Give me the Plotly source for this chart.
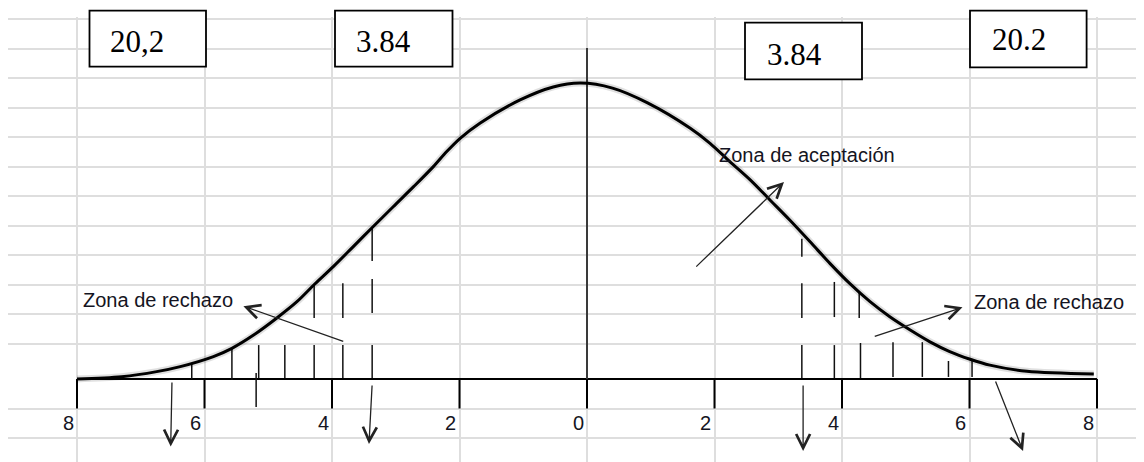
import plotly.graph_objects as go

# curva dibujada
curva_x = [-8.0, -7.3, -6.75, -6.38, -5.86, -5.57, -5.23, -4.87, -4.55, -4.27,
           -3.98, -3.67, -3.38, -3.04, -2.72, -2.41, -2.2, -1.99, -1.68, -1.05,
           -0.53, -0.1, 0.4, 0.95, 1.62, 1.93, 2.24, 2.56, 2.87, 3.18, 3.5,
           3.81, 4.12, 4.44, 4.75, 5.07, 5.38, 5.69, 6.01, 6.32, 6.9, 7.95]
curva_y = [0.0, 0.08, 0.25, 0.42, 0.76, 1.04, 1.49, 2.06, 2.62, 3.22,
           3.81, 4.48, 5.11, 5.84, 6.52, 7.2, 7.71, 8.16, 8.67, 9.46,
           9.9, 10.03, 9.86, 9.36, 8.5, 7.99, 7.37, 6.75, 6.07, 5.39, 4.65,
           3.92, 3.24, 2.62, 2.11, 1.66, 1.26, 0.93, 0.67, 0.47, 0.26, 0.17]

# marcas del eje
ticks = [-8, -6, -4, -2, 0, 2, 4, 6, 8]
tick_labels = ["8", "6", "4", "2", "0", "2", "4", "6", "8"]

# rayado de las zonas de rechazo: (x, y arriba, y abajo)
rayas_x = [-6.2, -5.57, -5.19, -5.15, -4.74, -4.28, -4.28, -3.83, -3.83,
           -3.37, -3.37, -3.37,
           3.37, 3.37, 3.37, 3.88, 3.88, 4.27, 4.29, 4.8, 5.26, 5.67, 6.04]
rayas_top = [0.51, 1.05, 0.2, 1.15, 1.15, 1.15, 3.19, 1.15, 3.25,
             1.15, 3.39, 5.12,
             1.15, 3.25, 4.75, 1.15, 3.29, 2.95, 1.22, 1.25, 1.25, 0.61, 0.61]
rayas_bot = [0.0, -0.03, -0.95, 0.03, 0.03, 0.03, 2.07, 0.03, 2.07,
             0.03, 2.24, 4.0,
             0.03, 2.07, 4.14, 0.03, 2.1, 2.07, 0.03, 0.07, 0.07, 0.07, 0.07]

# valores criticos en los recuadros
cajas_txt = ["20,2", "3.84", "3.84", "20.2"]

# la pagina deja 8 px de margen: la figura ocupa de (8, 8) a (1144, 462)
PAGE_OFF = 8
PX0, PX_UNIT = 587, 63.75      # pixel del 0 y pixeles por unidad en x
PY0, PY_UNIT = 379, 29.5       # pixel del eje y pixeles por unidad en y
SCR_W, SCR_H = 1144, 462
PLOT_L, PLOT_T = 8, 17         # esquina del area de la cuadricula


def px2x(p):
    return (p - PX0) / PX_UNIT


def py2y(p):
    return (PY0 - p) / PY_UNIT


def paper_x(p):
    return (p - PLOT_L) / (SCR_W - PLOT_L)


def paper_y(p):
    return (SCR_H - p) / (SCR_H - PLOT_T)


fig = go.Figure()

# eje horizontal y marcas
fig.add_trace(go.Scatter(x=[ticks[0], ticks[-1]], y=[0, 0], mode="lines",
                         line=dict(color="black", width=2), hoverinfo="skip"))
tx, ty = [], []
for t in ticks:
    tx += [t, t, None]
    ty += [0, -1, None]
fig.add_trace(go.Scatter(x=tx, y=ty, mode="lines",
                         line=dict(color="black", width=2), hoverinfo="skip"))

# linea central
fig.add_trace(go.Scatter(x=[0, 0], y=[0, py2y(48)], mode="lines",
                         line=dict(color="#3a3a3a", width=2), hoverinfo="skip"))

# rayado
hx, hy = [], []
for x, a, b in zip(rayas_x, rayas_top, rayas_bot):
    hx += [x, x, None]
    hy += [a, b, None]
fig.add_trace(go.Scatter(x=hx, y=hy, mode="lines",
                         line=dict(color="#111111", width=1.5), hoverinfo="skip"))

# curva normal
fig.add_trace(go.Scatter(x=curva_x, y=curva_y, mode="lines",
                         line=dict(color="rgba(0,0,0,0.12)", width=7, shape="spline", smoothing=0.9),
                         hoverinfo="skip"))
fig.add_trace(go.Scatter(x=curva_x, y=curva_y, mode="lines",
                         line=dict(color="black", width=3, shape="spline", smoothing=0.9),
                         hoverinfo="skip"))

# etiquetas del eje
for t, lab in zip(ticks, tick_labels):
    fig.add_annotation(x=t, y=-1.5, text=lab, showarrow=False, xshift=-9,
                       font=dict(family="Liberation Sans, Arial", size=20, color="#141422"))

# flechas (cabeza, cola)
flechas = [
    ((-6.53, -2.29), (-6.51, -0.07)),
    ((-3.42, -2.2), (-3.37, -0.17)),
    ((3.39, -2.44), (3.39, -0.17)),
    ((6.84, -2.44), (6.4, -0.03)),
    ((-5.39, 2.47), (-3.8, 1.26)),
    ((3.09, 6.68), (1.69, 3.76)),
    ((5.89, 2.43), (4.49, 1.43)),
]
for (hx_, hy_), (tx_, ty_) in flechas:
    fig.add_annotation(x=hx_, y=hy_, ax=tx_, ay=ty_, xref="x", yref="y",
                       axref="x", ayref="y", text="", showarrow=True,
                       arrowhead=5, arrowsize=2.1, arrowwidth=1.3, arrowcolor="#222222")

# textos de zonas
zona_font = dict(family="Liberation Sans, Arial", size=20, color="#141422")
fig.add_annotation(x=px2x(81), y=py2y(300), text="Zona de rechazo", showarrow=False,
                   xanchor="left", yanchor="middle", font=zona_font)
fig.add_annotation(x=px2x(717), y=py2y(154.5), text="Zona de aceptación", showarrow=False,
                   xanchor="left", yanchor="middle", font=zona_font)
fig.add_annotation(x=px2x(972), y=py2y(301.5), text="Zona de rechazo", showarrow=False,
                   xanchor="left", yanchor="middle", font=zona_font)

# recuadros con los valores criticos
cajas = [(89.5, 206, 10.7, 66.7, 136.8, 41),
         (335, 452.5, 10.7, 66.7, 383, 41),
         (745, 862, 22.7, 79.3, 794.5, 54),
         (970, 1086.6, 10.7, 67.3, 1018.5, 40)]
for txt, (x0, x1, y0, y1, cx, cy) in zip(cajas_txt, cajas):
    fig.add_shape(type="rect", xref="paper", yref="paper",
                  x0=paper_x(x0), x1=paper_x(x1), y0=paper_y(y1), y1=paper_y(y0),
                  line=dict(color="black", width=1.8), fillcolor="white", layer="above")
    fig.add_annotation(xref="paper", yref="paper", x=paper_x(cx), y=paper_y(cy),
                       text=txt, showarrow=False, xanchor="center", yanchor="middle",
                       font=dict(family="Liberation Serif, Times New Roman", size=31, color="black"))

fig.update_layout(
    width=SCR_W - PAGE_OFF, height=SCR_H - PAGE_OFF,
    margin=dict(l=PLOT_L - PAGE_OFF, r=0, t=PLOT_T - PAGE_OFF, b=0),
    paper_bgcolor="white", plot_bgcolor="white",
    showlegend=False,
    xaxis=dict(range=[px2x(PLOT_L), px2x(SCR_W)], tickvals=ticks, showticklabels=False,
               showgrid=True, gridcolor="#dedede", gridwidth=1.5, zeroline=False,
               showline=False, fixedrange=True),
    yaxis=dict(range=[py2y(SCR_H), py2y(PLOT_T)], tickvals=[-2, -1] + [1.2 + k for k in range(12)],
               showticklabels=False, showgrid=True, gridcolor="#dedede", gridwidth=1.5,
               zeroline=False, showline=False, fixedrange=True),
)

fig.write_html("out.html", config={"displayModeBar": False})
